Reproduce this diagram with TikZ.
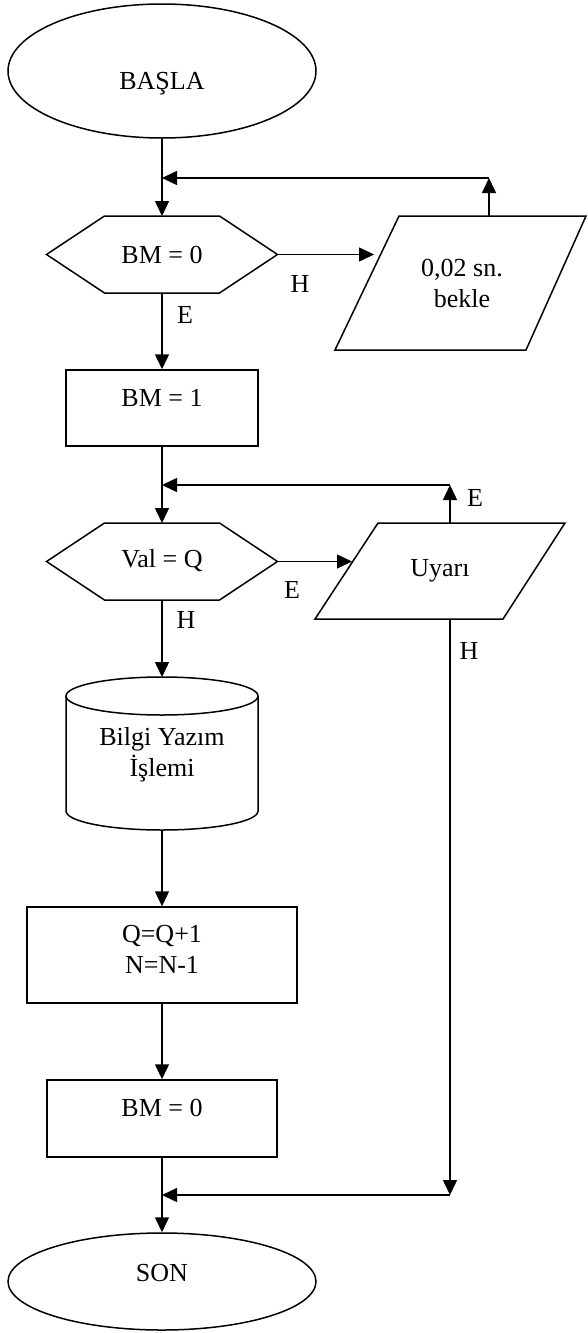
\documentclass[tikz,border=0pt]{standalone}
\usepackage{fontspec}
\setmainfont{Liberation Serif}
\usetikzlibrary{arrows.meta,shapes.geometric}
\begin{document}
\begin{tikzpicture}[x=1pt,y=-1pt,
  terminal/.style={ellipse, draw, line width=1.5pt, minimum width=308pt, inner sep=0pt},
  box/.style={rectangle, draw, line width=1.5pt, inner sep=0pt},
  area/.style={rectangle, draw=none, inner sep=0pt, outer sep=0pt},
  outline/.style={draw, line width=1.5pt, line join=miter},
  txt/.style={anchor=base, inner sep=0pt, align=center, font=\fontsize{26}{30.5}\selectfont},
  flow/.style={line width=1.5pt, -{Triangle[length=15pt,width=14pt]}}]
\useasboundingbox (0,0) rectangle (587,1333);

% shapes
\node[terminal, minimum height=134pt] (start) at (162,71) {};
\node[area, minimum width=231pt, minimum height=77pt] (test1) at (162,254.5) {};
\node[area, minimum width=251pt, minimum height=134pt] (wait) at (460.5,283) {};
\node[box, minimum width=192pt, minimum height=76pt] (set1) at (162,408) {};
\node[area, minimum width=231pt, minimum height=77pt] (test2) at (162,561.5) {};
\node[area, minimum width=250pt, minimum height=96pt] (warn) at (440,571) {};
\node[area, minimum width=192pt, minimum height=153pt] (store) at (162,753.5) {};
\node[box, minimum width=270pt, minimum height=96pt] (count) at (162,955) {};
\node[box, minimum width=230pt, minimum height=77pt] (reset) at (162,1118.5) {};
\node[terminal, minimum height=97pt] (stop) at (162,1281.5) {};

% decision hexagons
\foreach \h in {test1,test2}
  \draw[outline] (\h.west) -- ([xshift=58pt]\h.north west) -- ([xshift=-58pt]\h.north east)
    -- (\h.east) -- ([xshift=-58pt]\h.south east) -- ([xshift=58pt]\h.south west) -- cycle;

% input/output parallelograms
\draw[outline] ([xshift=64pt]wait.north west) -- (wait.north east)
  -- ([xshift=-60pt]wait.south east) -- (wait.south west) -- cycle;
\draw[outline] ([xshift=63pt]warn.north west) -- (warn.north east)
  -- ([xshift=-62pt]warn.south east) -- (warn.south west) -- cycle;

% storage cylinder
\draw[outline] ([yshift=-19pt]store.north) ellipse [x radius=96pt, y radius=19pt];
\draw[outline] ([yshift=-19pt]store.north west) -- ([yshift=19pt]store.south west)
  arc[start angle=180, end angle=360, x radius=96pt, y radius=19pt]
  -- ([yshift=-19pt]store.north east);

% texts (base = baseline of the last line)
\node[txt] (tstart) at (162,89) {BAŞLA};
\node[txt] (ttest1) at (162,263) {BM = 0};
\node[txt] (twait) at (462,307) {0,02 sn.\\bekle};
\node[txt] (tset1) at (162,406) {BM = 1};
\node[txt] (ttest2) at (162,567) {Val = Q};
\node[txt] (twarn) at (440,576) {Uyarı};
\node[txt] (tstore) at (162,776) {Bilgi Yazım\\İşlemi};
\node[txt] (tcount) at (162,973) {Q=Q+1\\N=N-1};
\node[txt] (treset) at (162,1116) {BM = 0};
\node[txt] (tstop) at (162,1281) {SON};

% branch labels
\node[txt] (lh1) at (300,292) {H};
\node[txt] (le1) at (185,323) {E};
\node[txt] (le2) at (292,598) {E};
\node[txt] (le3) at (475,506) {E};
\node[txt] (lh2) at (186,628) {H};
\node[txt] (lh3) at (469,659) {H};

% junction points
\coordinate (loop1) at (489,178);
\coordinate (waitin) at (374,254.5);
\coordinate (loop2) at (450,485);
\coordinate (warnin) at (352,561.5);
\coordinate (merge) at (450,1195);

% connectors
\draw[flow] (start.south) -- (test1.north);
\draw[flow] (test1.east) -- (test1.east -| waitin);
\draw[flow] (loop1 |- wait.north) -- (loop1);
\draw[flow] (loop1) -- (loop1 -| test1.north);
\draw[flow] (test1.south) -- (set1.north);
\draw[flow] (set1.south) -- (test2.north);
\draw[flow] (test2.east) -- (test2.east -| warnin);
\draw[flow] (loop2 |- warn.north) -- (loop2);
\draw[flow] (loop2) -- (loop2 -| test2.north);
\draw[flow] (test2.south) -- (store.north);
\draw[flow] (store.south) -- (count.north);
\draw[flow] (count.south) -- (reset.north);
\draw[flow] (reset.south) -- (stop.north);
\draw[flow] (loop2 |- warn.south) -- (merge);
\draw[flow] (merge) -- (merge -| stop.north);
\end{tikzpicture}
\end{document}
